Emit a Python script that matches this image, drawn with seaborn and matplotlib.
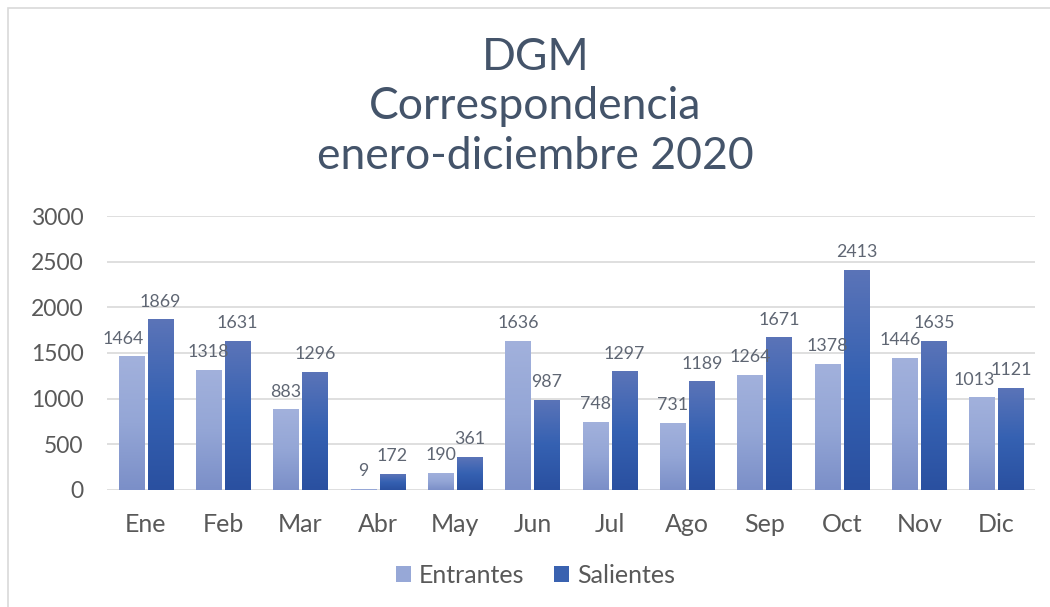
import numpy as np
import pandas as pd
import matplotlib
matplotlib.use("Agg")
import matplotlib.pyplot as plt
from matplotlib.colors import LinearSegmentedColormap
from matplotlib.patches import Rectangle
import seaborn as sns

months = ["Ene", "Feb", "Mar", "Abr", "May", "Jun", "Jul", "Ago", "Sep", "Oct", "Nov", "Dic"]
entrantes = [1464, 1318, 883, 9, 190, 1636, 748, 731, 1264, 1378, 1446, 1013]
salientes = [1869, 1631, 1296, 172, 361, 987, 1297, 1189, 1671, 2413, 1635, 1121]
series_names = ["Entrantes", "Salientes"]
title_lines = ["DGM", "Correspondencia", "enero-diciembre 2020"]
y_ticks = [0, 500, 1000, 1500, 2000, 2500, 3000]

df = pd.DataFrame({
    "Mes": months * 2,
    "Serie": [series_names[0]] * len(months) + [series_names[1]] * len(months),
    "Valor": entrantes + salientes,
})

sns.set_theme(style="white")
plt.rcParams["font.family"] = ["Lato", "DejaVu Sans"]

text_col = "#595959"
title_col = "#44546A"
grad = {
    "Entrantes": LinearSegmentedColormap.from_list("ent", ["#7B8FC8", "#94A6D6", "#A2B1DC"]),
    "Salientes": LinearSegmentedColormap.from_list("sal", ["#2A50A0", "#3561B2", "#5B74B8"]),
}
solid = {"Entrantes": "#97A8D7", "Salientes": "#3A62B0"}
# horizontal nudges (points) for crowded value labels
label_shift = {("Entrantes", "Ene"): -6, ("Entrantes", "Nov"): -3, ("Entrantes", "Dic"): -6}

fig = plt.figure(figsize=(10.5, 6.07), dpi=100)
ax = fig.add_axes([0.102, 0.193, 0.884, 0.451])

sns.barplot(data=df, x="Mes", y="Valor", hue="Serie", order=months,
            hue_order=series_names, palette=solid, width=0.75, gap=0.12,
            errorbar=None, ax=ax, legend=False, zorder=3)

ax.set_ylim(0, 3000)
ax.set_xlim(-0.5, len(months) - 0.5)
ax.set_yticks(y_ticks)
ax.yaxis.grid(True, color="#D9D9D9", linewidth=1.2, zorder=0)
ax.set_axisbelow(True)
for s in ax.spines.values():
    s.set_visible(False)
ax.set_xlabel("")
ax.set_ylabel("")
ax.tick_params(axis="y", length=0, pad=17, labelsize=16.5, labelcolor=text_col)
ax.tick_params(axis="x", length=0, pad=17, labelsize=18, labelcolor=text_col)
for lab in ax.get_yticklabels():
    lab.set_horizontalalignment("right")

# vertical gradient fill for every bar, clipped to the bar shape
gradient = np.linspace(0, 1, 256).reshape(-1, 1)
for cont, name in zip(ax.containers, series_names):
    for bar, val, month in zip(cont.patches, cont.datavalues, months):
        x0, w, h = bar.get_x(), bar.get_width(), bar.get_height()
        bar.set_facecolor("none")
        bar.set_edgecolor("none")
        if h > 0:
            im = ax.imshow(gradient, cmap=grad[name], aspect="auto", origin="lower",
                           extent=[x0, x0 + w, 0, h], zorder=3)
            im.set_clip_path(bar)
        dx = label_shift.get((name, month), 0)
        ax.annotate(f"{int(val)}", (x0 + w / 2, h), xytext=(dx, 7),
                    textcoords="offset points", ha="center", va="bottom",
                    fontsize=12.8, color="#5F6673", zorder=4)
ax.set_xlim(-0.5, len(months) - 0.5)
ax.set_ylim(0, 3000)

for yy, line in zip([0.905, 0.825, 0.742], title_lines):
    fig.text(0.51, yy, line, ha="center", va="center", fontsize=32, color=title_col)

handles = [Rectangle((0, 0), 1, 1, facecolor=solid[n], edgecolor="none") for n in series_names]
fig.legend(handles, series_names, loc="center", bbox_to_anchor=(0.51, 0.052), ncol=2,
           frameon=False, fontsize=18, labelcolor=text_col, handlelength=0.6,
           handleheight=0.6, handletextpad=0.3, columnspacing=1.2)

fig.patches.append(Rectangle((0.008, -0.01), 1.0, 0.997, transform=fig.transFigure,
                             fill=False, edgecolor="#D9D9D9", linewidth=1.2))

fig.savefig("out.png", dpi=100)
